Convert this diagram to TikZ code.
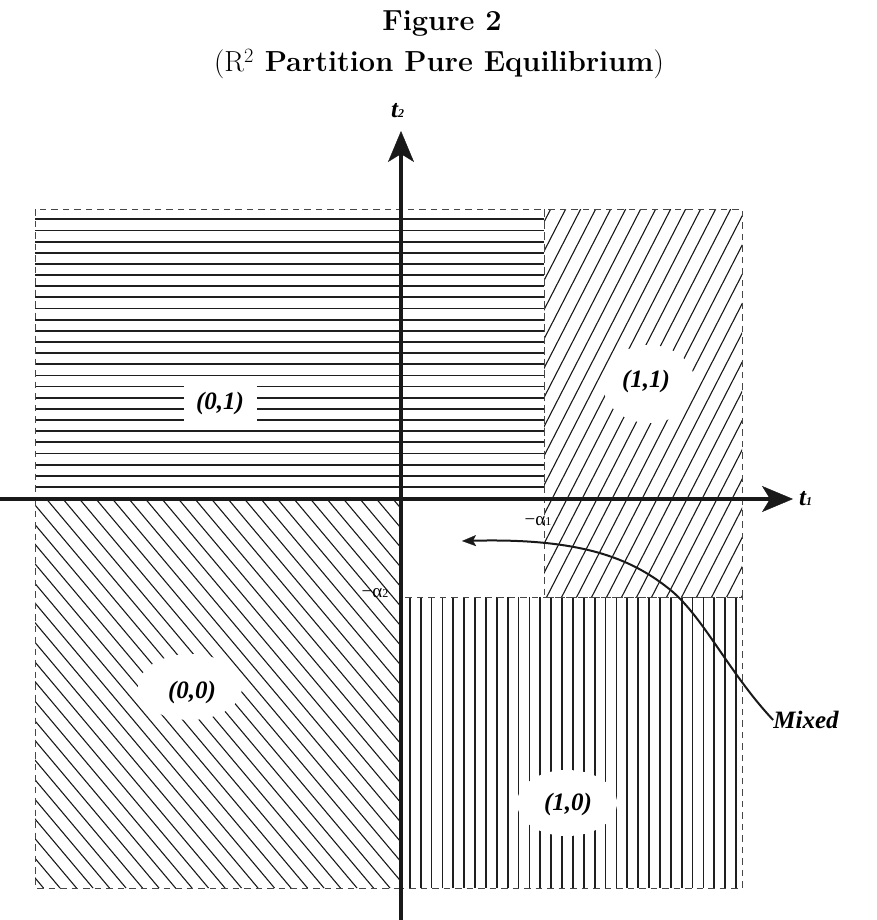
\documentclass[tikz,border=0pt]{standalone}
\usepackage{fontspec}
\usetikzlibrary{arrows.meta,shapes.geometric}
\newfontfamily\lserif{Liberation Serif}
\begin{document}
\begin{tikzpicture}[x=1pt,y=-1pt,
  bd/.style={draw=black!72, line width=0.9pt, dash pattern=on 6.5pt off 5pt},
  hh/.style={draw=black!88, line width=1.8pt},
  dd/.style={draw=black!90, line width=1.1pt},
  axis/.style={line width=4pt, draw=black!90, -{Stealth[length=31pt,width=26pt,inset=8pt,line width=0.4pt]}},
  lab/.style={font=\lserif\bfseries\itshape\fontsize{25}{25}\selectfont, inner sep=0pt},
  hole/.style={ellipse, fill=white},
  axlab/.style={font=\lserif\bfseries\itshape\fontsize{25}{25}\selectfont, inner sep=0pt, anchor=base west},
  alab/.style={font=\lserif\fontsize{19}{19}\selectfont, inner sep=0pt},
  ttl/.style={font=\fontsize{29}{29}\selectfont\bfseries, inner sep=0pt, anchor=base}]
\useasboundingbox (0,0) rectangle (877,920);

% title
\node[ttl] (title) at (442,31) {Figure 2};
\node[ttl] (subtitle) at (439,72) {{\mdseries(R\textsuperscript{2}} Partition Pure Equilibrium{\mdseries)}};

% (0,1) horizontal hatching
\foreach \i in {0,...,24} \draw[hh] (35,{219.3+11.15*\i}) -- (544,{219.3+11.15*\i});
% (1,0) vertical hatching
\foreach \i in {0,...,30} \draw[hh] ({409.8+10.875*\i},597) -- ({409.8+10.875*\i},888);
% (1,1) diagonal hatching
\begin{scope}
  \clip (544,209) rectangle (742,597);
  \foreach \j in {-14,...,13} \draw[dd] ({546.7+15*\j},597) -- ({745.7+15*\j},209);
\end{scope}
% (0,0) diagonal hatching
\begin{scope}
  \clip (35,499) rectangle (401,888);
  \foreach \j in {-22,...,20} \draw[dd] ({390+16.5*\j},888) -- ({63+16.5*\j},499);
\end{scope}

% region borders
\draw[bd] (35,209) rectangle (544,499);
\draw[bd] (544,209) rectangle (742,597);
\draw[bd] (35,499) rectangle (401,888);
\draw[bd] (401,597) rectangle (742,888);

% region labels
\node[fill=white, minimum width=73pt, minimum height=44pt] (h01) at (220,403) {};
\node[lab] (r01) at (220,403) {(0,1)};
\node[hole, minimum width=92pt, minimum height=78pt] (h11) at (649,384) {};
\node[lab] (r11) at (646,381) {(1,1)};
\node[hole, minimum width=104pt, minimum height=66pt] (h00) at (190,687) {};
\node[lab] (r00) at (192,692) {(0,0)};
\node[hole, minimum width=100pt, minimum height=66pt] (h10) at (567,803) {};
\node[lab] (r10) at (568,804) {(1,0)};

% thresholds
\node[alab] (a1) at (538,521) {−α{\fontsize{12}{12}\selectfont 1}};
\node[alab] (a2) at (375,593) {−α{\fontsize{12}{12}\selectfont 2}};

% axes
\coordinate (xs) at (0,499);
\coordinate (xe) at (793,499);
\coordinate (ys) at (401,920);
\coordinate (ye) at (401,131);
\draw[axis] (xs) -- (xe);
\draw[axis] (ys) -- (ye);
\node[axlab] (t1) at (799,505) {t{\fontsize{12}{12}\selectfont 1}};
\node[axlab] (t2) at (391,118) {t{\fontsize{12}{12}\selectfont 2}};

% mixed
\node[lab] (mx) at (806,720) {Mixed};
\coordinate (mt) at (462,541);
\draw[line width=2pt, draw=black!90, -{Stealth[length=14pt,width=11pt,inset=3pt,line width=0.3pt]}]
  (mx.west) .. controls (728,672) and (702,614) .. (668,588)
  .. controls (630,558) and (580,538) .. (mt);
\end{tikzpicture}
\end{document}
